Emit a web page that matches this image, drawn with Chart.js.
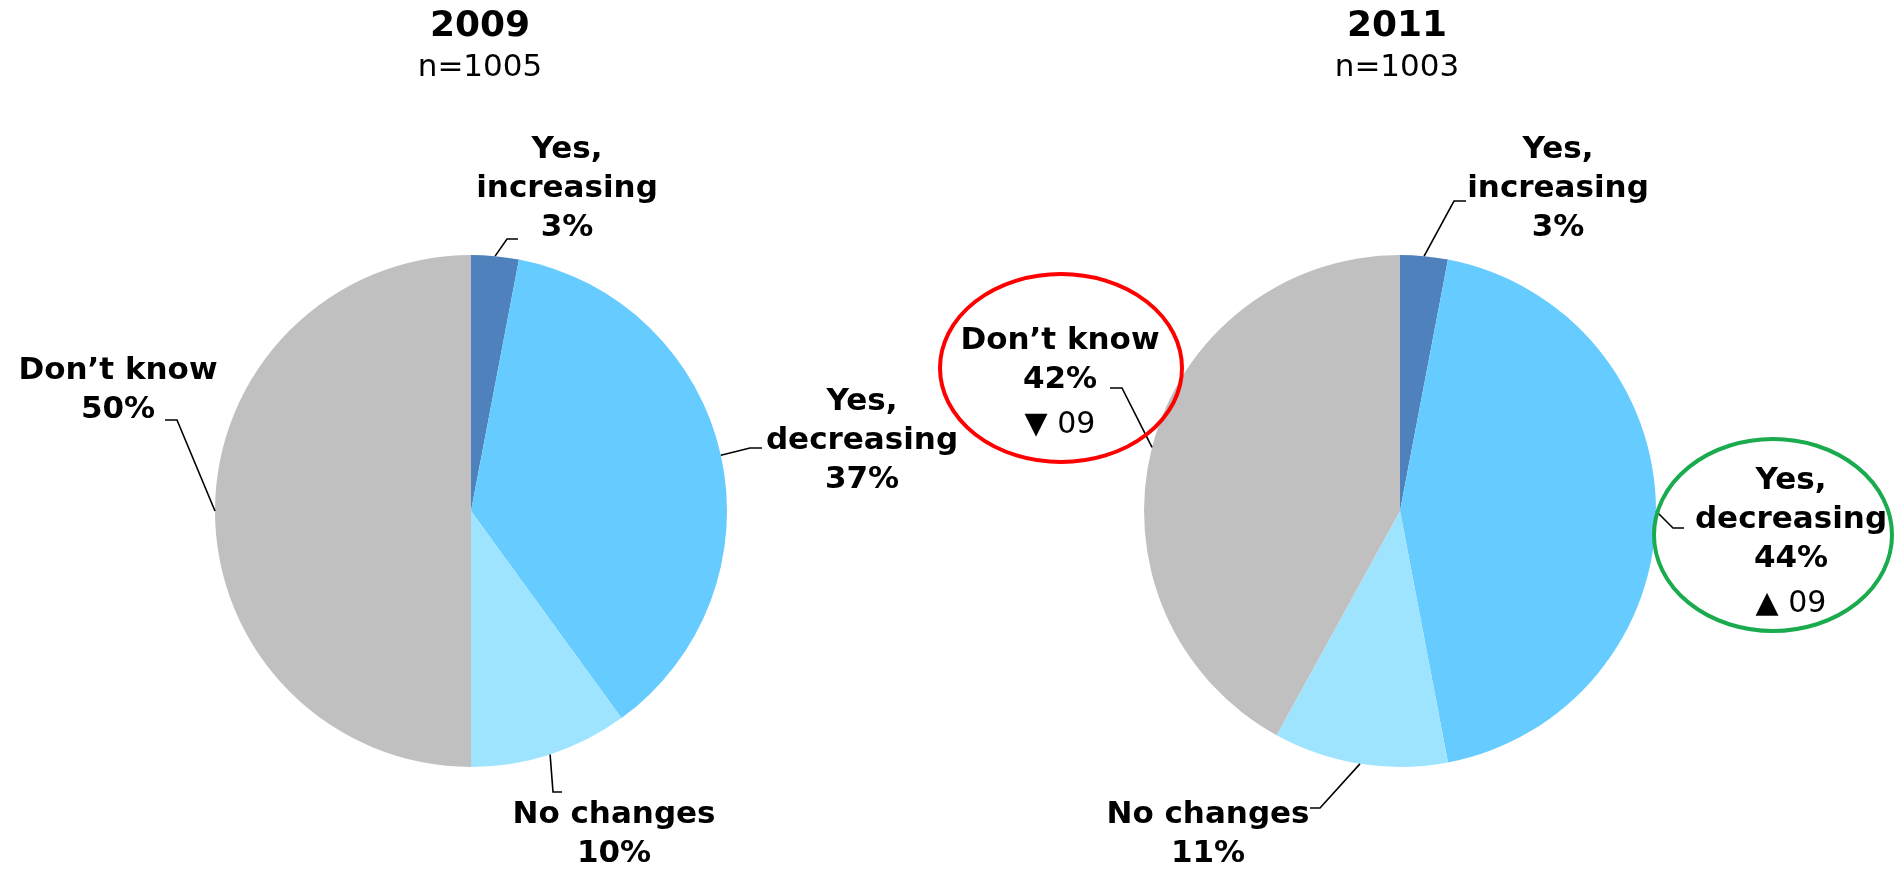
<!DOCTYPE html>
<html lang="en">
<head>
    <meta charset="UTF-8">
    <title>Pie 2009 vs 2011</title>
    <script src="https://cdn.jsdelivr.net/npm/chart.js"></script>
    <style>
        body { margin: 0; background: #fff; }
        #wrap { position: relative; width: 1904px; height: 869px; }
        #wrap canvas { position: absolute; left: 0; top: 0; }
    </style>
</head>
<body>
<div id="wrap">
    <canvas id="pie2009" width="1904" height="869"></canvas>
    <canvas id="pie2011" width="1904" height="869"></canvas>
</div>

<script>
// data
const categories = ['Yes, increasing', 'Yes, decreasing', 'No changes', 'Don\u2019t know'];
const values2009 = [3, 37, 10, 50];
const values2011 = [3, 44, 11, 42];
const change2011 = [null, 'up', null, 'down'];   // vs 2009
const sliceColors = ['#4F81BD', '#66CCFF', '#9FE4FF', '#C0C0C0'];

const FONT = '"DejaVu Sans", Verdana, sans-serif';

// label layout: text centre x, first line y, leader elbow + end points
const layout2009 = [
    { x: 567, y: 150, elbow: [507, 239], end: [518, 239] },
    { x: 862, y: 402, elbow: [750, 448], end: [762, 448] },
    { x: 614, y: 815, elbow: [553, 792], end: [562, 792] },
    { x: 118, y: 371, elbow: [177, 420], end: [165, 420] }
];
const layout2011 = [
    { x: 1558, y: 150, elbow: [1454, 201], end: [1466, 201] },
    { x: 1791, y: 481, elbow: [1673, 528], end: [1684, 528], ring: { cx: 1773, cy: 535, rx: 119, ry: 96, color: '#1AAB4E' } },
    { x: 1208, y: 815, elbow: [1320, 808], end: [1310, 808] },
    { x: 1060, y: 341, elbow: [1122, 388], end: [1110, 388], ring: { cx: 1061, cy: 368, rx: 121, ry: 94, color: '#FF0000' } }
];

const pieLabels = {
    id: 'pieLabels',
    afterDraw(chart, args, opts) {
        const ctx = chart.ctx;
        const arcs = chart.getDatasetMeta(0).data;
        const vals = chart.data.datasets[0].data;
        ctx.save();
        ctx.textAlign = 'center';
        ctx.textBaseline = 'middle';
        ctx.fillStyle = '#000';

        // title
        ctx.font = 'bold 36px ' + FONT;
        ctx.fillText(opts.title, opts.titleX, 27);
        ctx.font = '31px ' + FONT;
        ctx.fillText(opts.sub, opts.titleX, 68);

        arcs.forEach((arc, i) => {
            const L = opts.layout[i];
            const p = arc.getProps(['x', 'y', 'startAngle', 'endAngle', 'outerRadius'], true);
            const mid = (p.startAngle + p.endAngle) / 2;
            const ax = p.x + Math.cos(mid) * p.outerRadius;
            const ay = p.y + Math.sin(mid) * p.outerRadius;

            // leader line
            ctx.strokeStyle = '#000';
            ctx.lineWidth = 1.6;
            ctx.beginPath();
            ctx.moveTo(ax, ay);
            ctx.lineTo(L.elbow[0], L.elbow[1]);
            ctx.lineTo(L.end[0], L.end[1]);
            ctx.stroke();

            // text
            const name = chart.data.labels[i];
            const lines = name.includes(', ') ? [name.split(', ')[0] + ',', name.split(', ')[1]] : [name];
            lines.push(vals[i] + '%');
            ctx.font = 'bold 31px ' + FONT;
            let y = L.y;
            lines.forEach(t => { ctx.fillText(t, L.x, y); y += 39; });

            const ch = opts.change ? opts.change[i] : null;
            if (ch) {
                ctx.font = '30px ' + FONT;
                ctx.fillText((ch === 'up' ? '\u25B2' : '\u25BC') + ' 09', L.x, y + 6);
            }
            if (L.ring) {
                ctx.strokeStyle = L.ring.color;
                ctx.lineWidth = 4;
                ctx.beginPath();
                ctx.ellipse(L.ring.cx, L.ring.cy, L.ring.rx, L.ring.ry, 0, 0, Math.PI * 2);
                ctx.stroke();
            }
        });
        ctx.restore();
    }
};

function makePie(id, values, pad, plugOpts) {
    return new Chart(document.getElementById(id), {
        type: 'pie',
        data: {
            labels: categories,
            datasets: [{
                data: values,
                backgroundColor: sliceColors,
                borderWidth: 0
            }]
        },
        options: {
            responsive: false,
            animation: false,
            events: [],
            layout: { padding: pad },
            plugins: {
                legend: { display: false },
                tooltip: { enabled: false },
                pieLabels: plugOpts
            }
        },
        plugins: [pieLabels]
    });
}

makePie('pie2009', values2009,
    { left: 215, right: 1177, top: 255, bottom: 102 },
    { title: '2009', sub: 'n=1005', titleX: 480, layout: layout2009, change: null });

makePie('pie2011', values2011,
    { left: 1144, right: 248, top: 255, bottom: 102 },
    { title: '2011', sub: 'n=1003', titleX: 1397, layout: layout2011, change: change2011 });
</script>
</body>
</html>
